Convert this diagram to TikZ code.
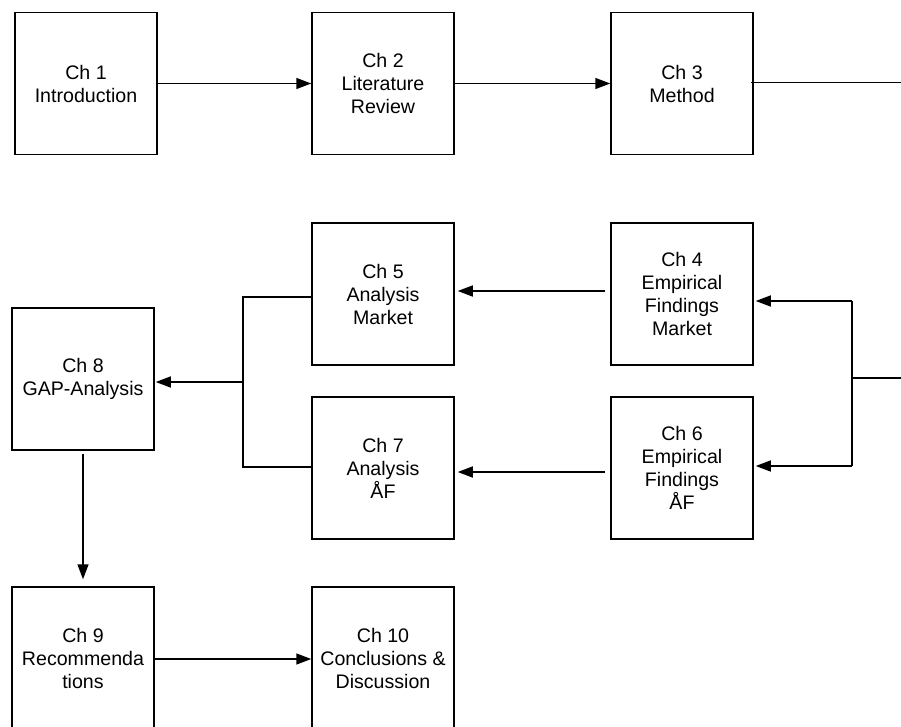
\documentclass[tikz,border=0pt]{standalone}
\usepackage{fontspec}
\setmainfont{Liberation Sans}
\usetikzlibrary{arrows.meta}
\tikzset{
  chapter/.style={draw=black, line width=1.5pt, minimum width=142pt, minimum height=142pt,
    inner sep=0pt, align=center, font=\fontsize{19.6}{23}\selectfont},
  link/.style={draw=black, line width=1.5pt},
  arr/.style={link, -{Triangle[length=15pt,width=11pt]}}
}
\begin{document}
\begin{tikzpicture}[x=1pt, y=-1pt]
\useasboundingbox (0,0) rectangle (901,727);
\clip (0,0) rectangle (901,727);
\fill[white] (0,0) rectangle (901,727);

% chapter boxes
\node[chapter] (ch1) at (86,83.5) {Ch 1\\Introduction};
\node[chapter] (ch2) at (383,83.5) {Ch 2\\Literature\\Review};
\node[chapter] (ch3) at (682,83.5) {Ch 3\\Method};
\node[chapter] (ch5) at (383,294) {Ch 5\\Analysis\\Market};
\node[chapter] (ch4) at (682,294) {Ch 4\\Empirical\\Findings\\Market};
\node[chapter] (ch7) at (383,468) {Ch 7\\Analysis\\ÅF};
\node[chapter] (ch6) at (682,468) {Ch 6\\Empirical\\Findings\\ÅF};
\node[chapter] (ch8) at (83,379) {Ch 8\\GAP-Analysis};
\node[chapter] (ch9) at (83,658) {Ch 9\\Recommenda\\tions};
\node[chapter] (ch10) at (383,658) {Ch 10\\Conclusions \&\\Discussion};

% top row
\draw[arr] (ch1.east) -- (ch2.west);
\draw[arr] (ch2.east) -- (ch3.west);
\coordinate (outA) at (901,82.5);
\draw[link] ([xshift=-3pt]ch3.east |- outA) -- (outA);

% right-hand trunk feeding chapters 4 and 6
\coordinate (inB) at (901,378);
\coordinate (tj) at (852,378);
\coordinate (t4) at (852,301);
\coordinate (t6) at (852,466);
\draw[link] (inB) -- (tj);
\draw[link] (t4) -- (t6);
\draw[arr, shorten >=2pt] (t4) -- (t4 -| ch4.east);
\draw[arr, shorten >=2pt] (t6) -- (t6 -| ch6.east);

% findings to analysis
\draw[arr, shorten <=5pt, shorten >=3pt] ([yshift=3pt]ch4.west) -- ([yshift=3pt]ch5.east);
\draw[arr, shorten <=5pt, shorten >=3pt] ([yshift=-4pt]ch6.west) -- ([yshift=-4pt]ch7.east);

% analysis bracket into chapter 8
\coordinate (bt) at (243,297);
\coordinate (bb) at (243,467);
\coordinate (bm) at (243,382);
\draw[link] (ch5.west |- bt) -- (bt) -- (bb) -- (ch7.west |- bb);
\draw[arr, shorten >=1pt] (bm) -- (ch8.east |- bm);

% bottom row
\draw[arr, shorten <=3pt, shorten >=7pt] (ch8.south) -- (ch9.north);
\draw[arr] ([yshift=-1pt]ch9.east) -- ([yshift=-1pt]ch10.west);
\end{tikzpicture}
\end{document}
